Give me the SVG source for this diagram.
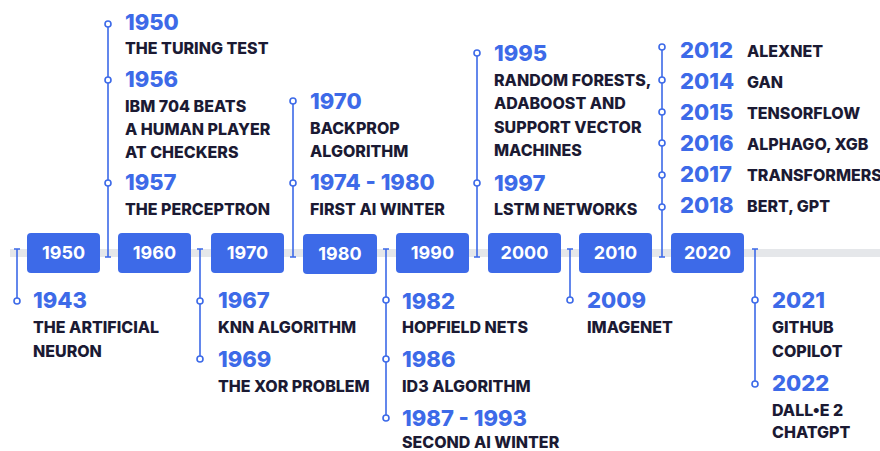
<svg xmlns="http://www.w3.org/2000/svg" width="880" height="451" viewBox="0 0 880 451">
<style>
.yr{font-family:Inter,"Liberation Sans",sans-serif;font-weight:800;font-size:22px;fill:#3d6ae8}
.lb{font-family:Inter,"Liberation Sans",sans-serif;font-weight:800;font-size:16px;fill:#1b1a33}
.bx{fill:#3d6ae8}
.bt{font-family:Inter,"Liberation Sans",sans-serif;font-weight:700;font-size:18px;fill:#ffffff;text-anchor:middle}
.ln{stroke:#3d6ae8;stroke-width:1.6;fill:none}
.dot{stroke:#3d6ae8;stroke-width:1.6;fill:#ffffff}
</style>
<rect x="10" y="249" width="870" height="8" fill="#e5e7ea"/>
<g id="connectors">
<path class="ln" d="M108 24V257M105 257H111"/>
<path class="ln" d="M293 101V257M290 257H296"/>
<path class="ln" d="M477 53V257M474 257H480"/>
<path class="ln" d="M662 47V257M659 257H665"/>
<path class="ln" d="M17 249V301M14 249H20"/>
<path class="ln" d="M200 249V359M197 249H203"/>
<path class="ln" d="M386 249V418M383 249H389"/>
<path class="ln" d="M570 249V300M567 249H573"/>
<path class="ln" d="M755 249V384M752 249H758"/>
<circle class="dot" cx="108" cy="24" r="3"/>
<circle class="dot" cx="108" cy="80" r="3"/>
<circle class="dot" cx="108" cy="183" r="3"/>
<circle class="dot" cx="293" cy="101" r="3"/>
<circle class="dot" cx="293" cy="183" r="3"/>
<circle class="dot" cx="477" cy="53" r="3"/>
<circle class="dot" cx="477" cy="183" r="3"/>
<circle class="dot" cx="662" cy="47" r="3"/>
<circle class="dot" cx="662" cy="80" r="3"/>
<circle class="dot" cx="662" cy="112" r="3"/>
<circle class="dot" cx="662" cy="143" r="3"/>
<circle class="dot" cx="662" cy="175" r="3"/>
<circle class="dot" cx="662" cy="207" r="3"/>
<circle class="dot" cx="17" cy="301" r="3"/>
<circle class="dot" cx="200" cy="301" r="3"/>
<circle class="dot" cx="200" cy="359" r="3"/>
<circle class="dot" cx="386" cy="300" r="3"/>
<circle class="dot" cx="386" cy="359" r="3"/>
<circle class="dot" cx="386" cy="418" r="3"/>
<circle class="dot" cx="570" cy="300" r="3"/>
<circle class="dot" cx="755" cy="300" r="3"/>
<circle class="dot" cx="755" cy="384" r="3"/>
</g>
<g id="decade-1950"><rect class="bx" x="27" y="233" width="73" height="40" rx="4"/><text class="bt" x="63.5" y="259">1950</text></g>
<g id="decade-1960"><rect class="bx" x="118" y="233" width="73" height="40" rx="4"/><text class="bt" x="154.5" y="259">1960</text></g>
<g id="decade-1970"><rect class="bx" x="211" y="233" width="73" height="40" rx="4"/><text class="bt" x="247.5" y="259">1970</text></g>
<g id="decade-1980"><rect class="bx" x="303" y="234" width="74" height="40" rx="4"/><text class="bt" x="340" y="260">1980</text></g>
<g id="decade-1990"><rect class="bx" x="396" y="233" width="73" height="40" rx="4"/><text class="bt" x="432.5" y="259">1990</text></g>
<g id="decade-2000"><rect class="bx" x="488" y="233" width="73" height="40" rx="4"/><text class="bt" x="524.5" y="259">2000</text></g>
<g id="decade-2010"><rect class="bx" x="579" y="233" width="73" height="40" rx="4"/><text class="bt" x="615.5" y="259">2010</text></g>
<g id="decade-2020"><rect class="bx" x="671" y="233" width="73" height="40" rx="4"/><text class="bt" x="707.5" y="259">2020</text></g>
<g id="event-1950"><text class="yr" x="125" y="30">1950</text><text class="lb" x="125" y="54">THE TURING TEST</text></g>
<g id="event-1956"><text class="yr" x="125" y="87">1956</text><text class="lb" x="125" y="112">IBM 704 BEATS</text><text class="lb" x="125" y="135">A HUMAN PLAYER</text><text class="lb" x="125" y="158">AT CHECKERS</text></g>
<g id="event-1957"><text class="yr" x="125" y="190">1957</text><text class="lb" x="125" y="215">THE PERCEPTRON</text></g>
<g id="event-1970"><text class="yr" x="310" y="109">1970</text><text class="lb" x="310" y="134">BACKPROP</text><text class="lb" x="310" y="157">ALGORITHM</text></g>
<g id="event-1974"><text class="yr" x="310" y="190">1974 - 1980</text><text class="lb" x="310" y="215">FIRST AI WINTER</text></g>
<g id="event-1995"><text class="yr" x="494" y="61">1995</text><text class="lb" x="494" y="86">RANDOM FORESTS,</text><text class="lb" x="494" y="109">ADABOOST AND</text><text class="lb" x="494" y="133">SUPPORT VECTOR</text><text class="lb" x="494" y="156">MACHINES</text></g>
<g id="event-1997"><text class="yr" x="494" y="191">1997</text><text class="lb" x="494" y="215">LSTM NETWORKS</text></g>
<g id="event-2012"><text class="yr" x="680" y="58">2012</text><text class="lb" x="747" y="57">ALEXNET</text></g>
<g id="event-2014"><text class="yr" x="680" y="89">2014</text><text class="lb" x="747" y="88">GAN</text></g>
<g id="event-2015"><text class="yr" x="680" y="120">2015</text><text class="lb" x="747" y="119">TENSORFLOW</text></g>
<g id="event-2016"><text class="yr" x="680" y="151">2016</text><text class="lb" x="747" y="150">ALPHAGO, XGB</text></g>
<g id="event-2017"><text class="yr" x="680" y="182">2017</text><text class="lb" x="747" y="181">TRANSFORMERS</text></g>
<g id="event-2018"><text class="yr" x="680" y="213">2018</text><text class="lb" x="747" y="212">BERT, GPT</text></g>
<g id="event-1943"><text class="yr" x="33" y="308">1943</text><text class="lb" x="33" y="333">THE ARTIFICIAL</text><text class="lb" x="33" y="357">NEURON</text></g>
<g id="event-1967"><text class="yr" x="218" y="308">1967</text><text class="lb" x="218" y="333">KNN ALGORITHM</text></g>
<g id="event-1969"><text class="yr" x="218" y="367">1969</text><text class="lb" x="218" y="392">THE XOR PROBLEM</text></g>
<g id="event-1982"><text class="yr" x="402" y="309">1982</text><text class="lb" x="402" y="333">HOPFIELD NETS</text></g>
<g id="event-1986"><text class="yr" x="402" y="367">1986</text><text class="lb" x="402" y="392">ID3 ALGORITHM</text></g>
<g id="event-1987"><text class="yr" x="402" y="426">1987 - 1993</text><text class="lb" x="402" y="448">SECOND AI WINTER</text></g>
<g id="event-2009"><text class="yr" x="587" y="308">2009</text><text class="lb" x="587" y="333">IMAGENET</text></g>
<g id="event-2021"><text class="yr" x="772" y="308">2021</text><text class="lb" x="772" y="333">GITHUB</text><text class="lb" x="772" y="357">COPILOT</text></g>
<g id="event-2022"><text class="yr" x="772" y="391">2022</text><text class="lb" x="772" y="416">DALL•E 2</text><text class="lb" x="772" y="438">CHATGPT</text></g>
</svg>
